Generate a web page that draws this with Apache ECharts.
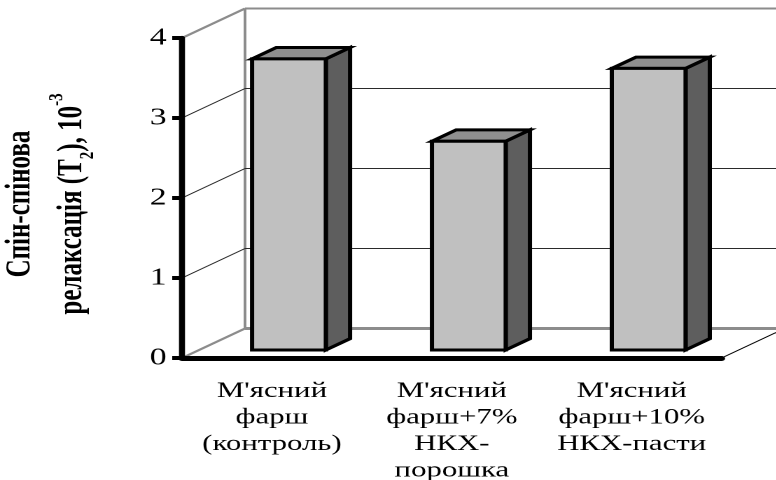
<!DOCTYPE html>
<html>
<head>
<meta charset="utf-8">
<script src="https://cdn.jsdelivr.net/npm/echarts@6/dist/echarts.min.js"></script>
<style>
  html, body { margin: 0; padding: 0; background: #fff; overflow: hidden; }
  #wrap { width: 776px; height: 480px; overflow: hidden; position: relative; }
  #chart { position: absolute; left: 0; top: 0; height: 480px; transform-origin: 0 0; }
</style>
</head>
<body>
<div id="wrap"><div id="chart"></div></div>
<script>
// Chart data
const categories = [
  "М'ясний\nфарш\n(контроль)",
  "М'ясний\nфарш+7%\nНКХ-\nпорошка",
  "М'ясний\nфарш+10%\nНКХ-пасти"
];
const values = [3.64, 2.61, 3.52];
const yTicks = [0, 1, 2, 3, 4];

// The figure is drawn in a narrower frame and widened horizontally,
// which gives the wide serif lettering of the original figure.
const S = 1.4;
const W = 776 / S;

// Pseudo-3D depth (pixels, in the narrow frame)
const DX = 45, DY = -29.5;
const F0 = 0.27, F1 = 0.655;   // bar front / back depth fractions
const BAR_RATIO = 0.41;
const WALL = '#8c8c8c', GRID = '#2a2a2a';
const FONT = "'Liberation Serif', 'Times New Roman', serif";

const el = document.getElementById('chart');
el.style.width = W + 'px';
el.style.transform = 'scaleX(' + S + ')';

const chart = echarts.init(el, null, { renderer: 'canvas', devicePixelRatio: 2 });

const yMin = yTicks[0], yMax = yTicks[yTicks.length - 1];

function renderWalls(params, api) {
  const cs = params.coordSys;
  const v = api.value(1);
  const y = api.coord([0, v])[1];
  const x0 = cs.x, x1 = cs.x + cs.width;
  const edge = (v === yMin || v === yMax);
  const children = [
    { type: 'line', shape: { x1: x0, y1: y, x2: x0 + DX, y2: y + DY },
      style: { stroke: edge ? WALL : GRID, lineWidth: edge ? 2 : 1 } },
    { type: 'line', shape: { x1: x0 + DX, y1: y + DY, x2: x1 + DX, y2: y + DY },
      style: { stroke: edge ? WALL : GRID, lineWidth: v === yMin ? 3 : (edge ? 2 : 1) } }
  ];
  if (v === yMin) {
    const yTop = api.coord([0, yMax])[1];
    children.push({ type: 'line', shape: { x1: x0 + DX, y1: y + DY, x2: x0 + DX, y2: yTop + DY },
      style: { stroke: WALL, lineWidth: 2 } });
    children.push({ type: 'line', shape: { x1: x1, y1: y, x2: x1 + DX, y2: y + DY },
      style: { stroke: '#000', lineWidth: 1 } });
  }
  return { type: 'group', children: children };
}

function renderBar(params, api) {
  const i = api.value(0), v = api.value(1);
  const base = api.coord([i, 0]);
  const top = api.coord([i, v]);
  const hw = api.size([1, 0])[0] * BAR_RATIO / 2;
  const L = base[0] - hw, R = base[0] + hw;
  const fx = F0 * DX, fy = F0 * DY, bx = F1 * DX, by = F1 * DY;
  const y0 = base[1], y1 = top[1];
  const st = { stroke: '#000', lineWidth: 3, lineJoin: 'miter' };
  return {
    type: 'group',
    children: [
      { type: 'polygon', shape: { points: [[R + fx, y1 + fy], [R + bx, y1 + by], [R + bx, y0 + by], [R + fx, y0 + fy]] },
        style: Object.assign({ fill: '#5e5e5e' }, st) },
      { type: 'polygon', shape: { points: [[L + fx, y1 + fy], [L + bx, y1 + by], [R + bx, y1 + by], [R + fx, y1 + fy]] },
        style: Object.assign({ fill: '#8f8f8f' }, st) },
      { type: 'polygon', shape: { points: [[L + fx, y1 + fy], [R + fx, y1 + fy], [R + fx, y0 + fy], [L + fx, y0 + fy]] },
        style: Object.assign({ fill: '#c0c0c0' }, st) }
    ]
  };
}

const option = {
  animation: false,
  backgroundColor: '#fff',
  grid: { left: 130, right: W - 722 / S, top: 38, bottom: 122, containLabel: false, outerBoundsMode: 'none' },
  xAxis: {
    type: 'category',
    data: categories,
    z: 5,
    axisLine: { lineStyle: { color: '#000', width: 5 } },
    axisTick: { length: 8, lineStyle: { color: '#000', width: 3.6 } },
    axisLabel: { interval: 0, margin: 20, fontFamily: FONT, fontSize: 22, lineHeight: 26.5, color: '#000' },
    splitLine: { show: false }
  },
  yAxis: {
    type: 'value',
    min: yMin, max: yMax, interval: 1,
    z: 5,
    axisLine: { show: true, lineStyle: { color: '#000', width: 4.3 } },
    axisTick: { show: true, length: 7, lineStyle: { color: '#000', width: 4 } },
    axisLabel: { margin: 11, fontFamily: FONT, fontSize: 24, color: '#000' },
    splitLine: { show: false },
    name: '{t|Спін-спінова}\n{t|релаксація (T}{sub|2}{t|), 10}{sup|-3}',
    nameLocation: 'middle',
    nameRotate: 90,
    nameGap: 60,
    nameTextStyle: {
      padding: [0, 12, 0, 0],
      rich: {
        t: { fontFamily: FONT, fontWeight: 'bold', fontSize: 25, lineHeight: 37, color: '#000' },
        sub: { fontFamily: FONT, fontWeight: 'bold', fontSize: 15, lineHeight: 15, verticalAlign: 'bottom', color: '#000' },
        sup: { fontFamily: FONT, fontWeight: 'bold', fontSize: 15, lineHeight: 15, verticalAlign: 'top', color: '#000' }
      }
    }
  },
  series: [
    {
      type: 'custom', name: 'walls', silent: true, clip: false, z: 1,
      renderItem: renderWalls,
      data: yTicks.map(v => [0, v])
    },
    {
      type: 'custom', name: 'bars', silent: true, clip: false, z: 3,
      renderItem: renderBar,
      data: values.map((v, i) => [i, v])
    }
  ]
};
chart.setOption(option);
</script>
</body>
</html>
